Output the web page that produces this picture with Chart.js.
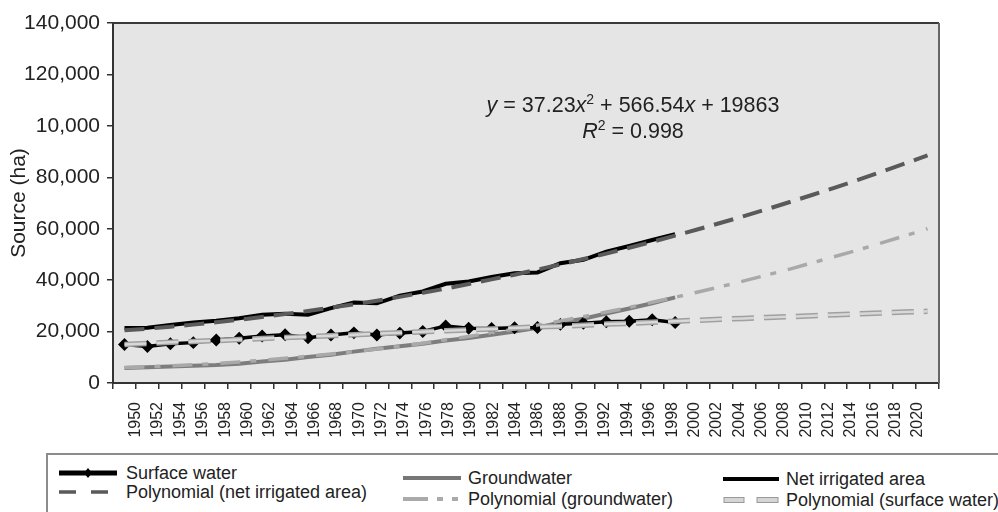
<!DOCTYPE html>
<html>
<head>
<meta charset="utf-8">
<script src="https://cdn.jsdelivr.net/npm/chart.js@4"></script>
<style>
    body { margin: 0; background: #fff; font-family: "Liberation Sans", Arial, sans-serif; color: #222; }
    #wrap { position: absolute; left: 0; top: 0; width: 998px; height: 450px; }
    #eq { position: absolute; left: 433px; top: 93px; width: 400px; text-align: center; font-size: 21.5px; line-height: 24px; }
    #eq .sup { position: relative; top: -8px; font-size: 14px; }
    #legendBox { position: absolute; left: 46px; top: 453px; width: 1000px; height: 100px; border: 2px solid #8c8c8c; }
    .item { position: absolute; height: 22px; line-height: 22px; font-size: 18px; white-space: nowrap; }
    .item svg { position: absolute; left: 0; top: 0; }
    .item span { position: absolute; top: 0; }
</style>
</head>
<body>
<div id="wrap"><canvas id="sourceChart" width="998" height="450"></canvas></div>
<div id="eq">
    <i>y</i> = 37.23<i>x</i><span class="sup">2</span> + 566.54<i>x</i> + 19863<br>
    <i>R</i><span class="sup">2</span> = 0.998
</div>
<div id="legendBox"></div>

<div class="item" style="left:59px; top:462px;">
    <svg width="58" height="22"><line x1="0" y1="11" x2="58" y2="11" stroke="#000" stroke-width="5"/><polygon points="29,6 33,11 29,16 25,11" fill="#000"/></svg>
    <span style="left:67px;">Surface water</span>
</div>
<div class="item" style="left:59px; top:481px;">
    <svg width="58" height="22"><line x1="0" y1="11" x2="58" y2="11" stroke="#5a5a5a" stroke-width="3.5" stroke-dasharray="17 15"/></svg>
    <span style="left:67px;">Polynomial (net irrigated area)</span>
</div>
<div class="item" style="left:403px; top:467px;">
    <svg width="58" height="22"><line x1="0" y1="11" x2="58" y2="11" stroke="#777" stroke-width="4"/></svg>
    <span style="left:65px;">Groundwater</span>
</div>
<div class="item" style="left:403px; top:488px;">
    <svg width="58" height="22"><line x1="0" y1="11" x2="58" y2="11" stroke="#aaa" stroke-width="4" stroke-dasharray="25 9 6 9 6 9"/></svg>
    <span style="left:65px;">Polynomial (groundwater)</span>
</div>
<div class="item" style="left:723px; top:468px;">
    <svg width="58" height="22"><line x1="0" y1="11" x2="56" y2="11" stroke="#000" stroke-width="4"/></svg>
    <span style="left:63px;">Net irrigated area</span>
</div>
<div class="item" style="left:723px; top:489px;">
    <svg width="58" height="22"><rect x="1" y="8.5" width="20" height="5" fill="#d5d5d5" stroke="#999" stroke-width="1"/><rect x="34" y="8.5" width="21" height="5" fill="#d5d5d5" stroke="#999" stroke-width="1"/></svg>
    <span style="left:63px;">Polynomial (surface water)</span>
</div>

<script>
// categories (every second year)
const years = ['1950', '1952', '1954', '1956', '1958', '1960', '1962', '1964', '1966', '1968',
    '1970', '1972', '1974', '1976', '1978', '1980', '1982', '1984', '1986', '1988',
    '1990', '1992', '1994', '1996', '1998', '2000', '2002', '2004', '2006', '2008',
    '2010', '2012', '2014', '2016', '2018', '2020'];

// observed series, 1950-1998 (ha)
const surfaceWater = [15000, 14200, 15300, 15700, 16700, 17400, 18300, 18800, 17600, 18700,
    19500, 18700, 19400, 20000, 22200, 21300, 21200, 21500, 21600, 22800,
    23200, 23800, 24000, 24600, 23500];
const groundwater = [5800, 6100, 6400, 6700, 7000, 7500, 8400, 9000, 10100, 11000,
    12200, 13300, 14300, 15300, 16500, 17500, 18800, 20000, 21500, 23500,
    25000, 27000, 29000, 31000, 33300];
const netIrrigated = [21400, 21500, 22600, 23500, 24200, 25200, 26500, 26900, 26500, 29100,
    31300, 31000, 34000, 35600, 38600, 39500, 41200, 42700, 43000, 46600,
    47900, 51100, 53300, 55600, 57900];

// trend lines, 1950-2020 (ha)
const polyNet = [20500, 21100, 21900, 22700, 23600, 24600, 25700, 26800, 28000, 29300,
    30600, 32000, 33500, 35100, 36700, 38500, 40300, 42100, 44100, 46100,
    48200, 50300, 52600, 54900, 57300, 59800, 62300, 64900, 67600, 70400,
    73200, 76100, 79100, 82200, 85300, 88500];
const polyGround = [6000, 6300, 6650, 7100, 7600, 8200, 8850, 9600, 10400, 11300,
    12200, 13200, 14300, 15500, 16800, 18100, 19500, 21000, 22500, 24100,
    25800, 27600, 29400, 31400, 33300, 35400, 37500, 39700, 42000, 44300,
    46800, 49300, 51800, 54500, 57200, 60000];
const polySurface = [15000, 15400, 15800, 16100, 16500, 16900, 17300, 17700, 18000, 18400,
    18800, 19200, 19500, 19900, 20300, 20700, 21000, 21400, 21800, 22100,
    22500, 22900, 23200, 23600, 24000, 24400, 24800, 25100, 25500, 25800,
    26200, 26500, 26900, 27200, 27600, 27900];

// y tick labels as printed (note the figure prints 10,000 at 100,000)
const yTickLabels = ['0', '20,000', '40,000', '60,000', '80,000', '10,000', '120,000', '140,000'];

const plotBackground = {
    id: 'plotBackground',
    beforeDraw(chart) {
        const { ctx, chartArea: a } = chart;
        ctx.save();
        ctx.fillStyle = '#e5e5e5';
        ctx.fillRect(a.left, a.top, a.right - a.left, a.bottom - a.top);
        ctx.restore();
    },
    afterDraw(chart) {
        const { ctx, chartArea: a } = chart;
        ctx.save();
        ctx.lineWidth = 2;
        ctx.strokeStyle = '#3a3a3a';
        ctx.beginPath();
        ctx.moveTo(a.left, a.top);
        ctx.lineTo(a.right, a.top);
        ctx.stroke();
        ctx.strokeStyle = '#666';
        ctx.beginPath();
        ctx.moveTo(a.right, a.top);
        ctx.lineTo(a.right, a.bottom);
        ctx.stroke();
        ctx.restore();
    }
};

document.addEventListener('DOMContentLoaded', () => {
    const ctx = document.getElementById('sourceChart').getContext('2d');
    new Chart(ctx, {
        type: 'line',
        data: {
            labels: years,
            datasets: [
                { label: 'Polynomial (surface water)', data: polySurface, borderColor: '#d8d8d8', borderWidth: 2.5, borderDash: [22, 10], pointRadius: 0 },
                { label: 'Polynomial (surface water) edge', data: polySurface, borderColor: '#a0a0a0', borderWidth: 5.5, borderDash: [22, 10], pointRadius: 0 },
                { label: 'Polynomial (net irrigated area)', data: polyNet, borderColor: '#5a5a5a', borderWidth: 4, borderDash: [20, 10], pointRadius: 0 },
                { label: 'Polynomial (groundwater)', data: polyGround, borderColor: '#a9a9a9', borderWidth: 3.5, borderDash: [20, 10, 6, 12], pointRadius: 0 },
                { label: 'Surface water', data: surfaceWater, borderColor: '#000', borderWidth: 3.5, pointStyle: 'rectRot', pointRadius: 4, pointBackgroundColor: '#000', pointBorderColor: '#000' },
                { label: 'Groundwater', data: groundwater, borderColor: '#7d7d7d', borderWidth: 4, pointRadius: 0 },
                { label: 'Net irrigated area', data: netIrrigated, borderColor: '#000', borderWidth: 4, pointRadius: 0 }
            ]
        },
        options: {
            responsive: false,
            animation: false,
            layout: { padding: { top: 23, right: 59, left: 0, bottom: 0 } },
            plugins: { legend: { display: false }, tooltip: { enabled: false } },
            scales: {
                x: {
                    type: 'category',
                    offset: true,
                    weight: 0,
                    grid: { offset: true, drawOnChartArea: false, drawTicks: true, tickLength: 6, color: '#333', lineWidth: 1.5 },
                    border: { display: true, color: '#333', width: 2 },
                    ticks: { display: false },
                    afterFit: (s) => { s.height = 6; }
                },
                xl: {
                    type: 'linear',
                    position: 'bottom',
                    weight: 1,
                    min: -1.016,
                    max: 35.94,
                    grid: { display: false },
                    border: { display: false },
                    ticks: {
                        stepSize: 1,
                        maxTicksLimit: 60,
                        autoSkip: false,
                        minRotation: 90,
                        maxRotation: 90,
                        padding: 5,
                        color: '#222',
                        font: { family: '"Liberation Sans", Arial, sans-serif', size: 16 },
                        callback: (v) => (Number.isInteger(v) && years[v]) ? years[v] : ''
                    },
                    afterFit: (s) => { s.height = 61; }
                },
                y: {
                    min: 0,
                    max: 140000,
                    grid: { drawOnChartArea: false, drawTicks: true, tickLength: 6, color: '#333', lineWidth: 1.5 },
                    border: { display: true, color: '#333', width: 2 },
                    ticks: {
                        stepSize: 20000,
                        padding: 7,
                        color: '#222',
                        font: { family: '"Liberation Sans", Arial, sans-serif', size: 21 },
                        callback: (v) => yTickLabels[Math.round(v / 20000)]
                    },
                    title: {
                        display: true,
                        text: 'Source (ha)',
                        color: '#222',
                        padding: { top: 7, bottom: 0 },
                        font: { family: '"Liberation Sans", Arial, sans-serif', size: 21 }
                    },
                    afterFit: (s) => { s.width = 113; }
                }
            }
        },
        plugins: [plotBackground]
    });
});
</script>
</body>
</html>
